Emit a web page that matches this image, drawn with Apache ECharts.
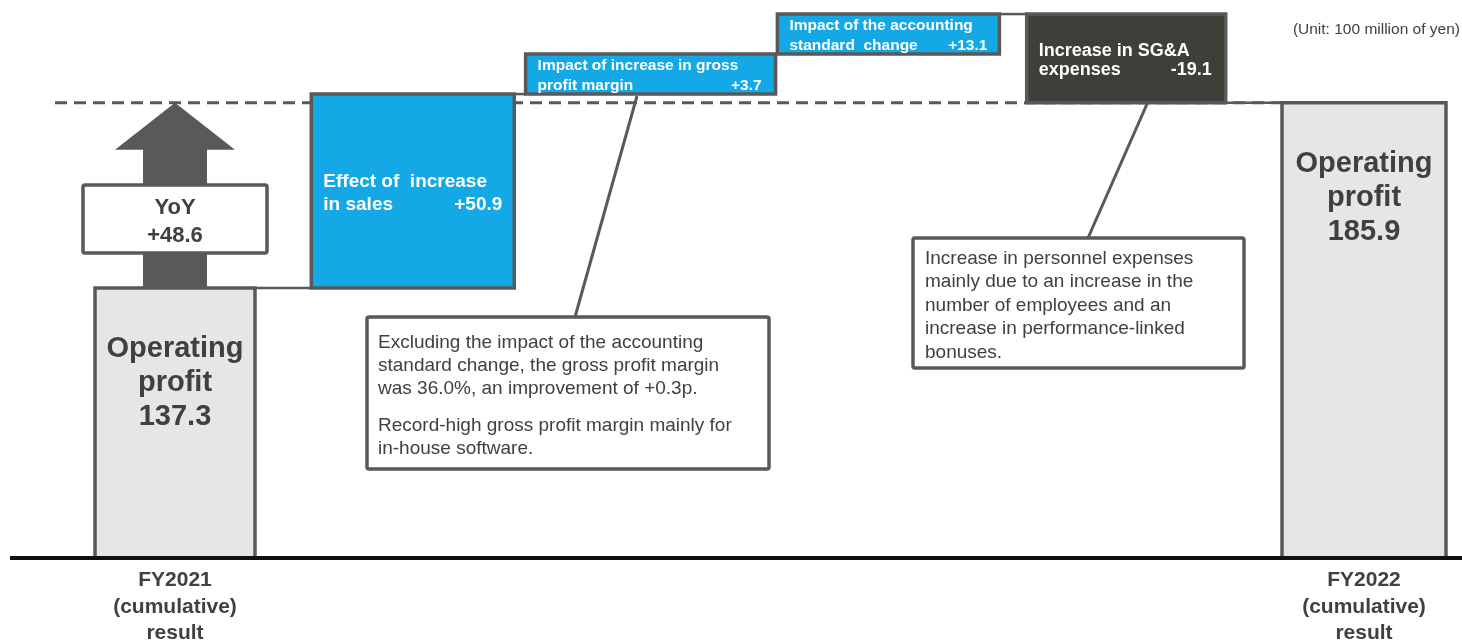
<!DOCTYPE html>
<html>
<head>
<meta charset="utf-8">
<script src="https://cdn.jsdelivr.net/npm/echarts@6/dist/echarts.min.js"></script>
<style>
  html, body { margin: 0; padding: 0; background: #ffffff; }
  #chart { width: 1462px; height: 643px; }
</style>
</head>
<body>
<div id="chart"></div>
<script>
// ---------------- data ----------------
const categories = [
  'FY2021 (cumulative) result',
  'Effect of increase in sales',
  'Impact of increase in gross profit margin',
  'Impact of the accounting standard change',
  'Increase in SG&A expenses',
  'FY2022 (cumulative) result'
];
const tickLabels = ['FY2021\n(cumulative)\nresult', '', '', '', '', 'FY2022\n(cumulative)\nresult'];
const totals = [137.3, 185.9];               // operating profit FY2021, FY2022
const changes = [50.9, 3.7, 13.1, -19.1];    // waterfall steps
const yoy = 48.6;
const changeTitles = [
  'Effect of  increase\nin sales',
  'Impact of increase in gross\nprofit margin',
  'Impact of the accounting\nstandard  change',
  'Increase in SG&A\nexpenses'
];
const totalTitle = 'Operating\nprofit';
const unitText = '(Unit: 100 million of yen)';
const note1a = 'Excluding the impact of the accounting\nstandard change, the gross profit margin\nwas 36.0%, an improvement of +0.3p.';
const note1b = 'Record-high gross profit margin mainly for\nin-house software.';
const note2 = 'Increase in personnel expenses\nmainly due to an increase in the\nnumber of employees and an\nincrease in performance-linked\nbonuses.';

// ---------------- style ----------------
const FONT = '"Liberation Sans", Arial, sans-serif';
const GRAY = '#595959';
const TEXT = '#404040';
const LIGHT = '#e6e6e6';
const BLUE = '#15a8e6';
const DARK = '#3f3f3a';
const Y_MIN = 66.43, Y_MAX = 212.89;
const BOX_W = [160, 203, 250, 222, 199, 164];
const CHANGE_FILL = [BLUE, BLUE, BLUE, DARK];
const CHANGE_FONT = [19, 15.5, 15.5, 18];
const CHANGE_LH = [23, 20, 20, 19.5];
const CHANGE_PAD = [12, 14, 12, 14];
const CHANGE_DY = [2, 2, 2, 2];
const LABEL_BOX_H = 40;      // small impacts are drawn as label boxes
const SMALL = 15;

function fmt(v) { return (v > 0 ? '+' : '') + v.toFixed(1); }

function layout(api) {
  const base = api.coord([0, Y_MIN])[1];
  const steps = [];
  const cx = i => api.coord([i, Y_MIN])[0];
  const t0 = api.coord([0, totals[0]])[1];
  steps.push({ x0: cx(0) - BOX_W[0] / 2, x1: cx(0) + BOX_W[0] / 2, top: t0, bot: base, start: t0, end: t0 });
  let prevEnd = t0, cum = totals[0];
  changes.forEach((d, k) => {
    const i = k + 1;
    cum += d;
    const start = prevEnd;
    const end = Math.abs(d) >= SMALL ? api.coord([i, cum])[1] : start - Math.sign(d) * LABEL_BOX_H;
    steps.push({ x0: cx(i) - BOX_W[i] / 2, x1: cx(i) + BOX_W[i] / 2,
      top: Math.min(start, end), bot: Math.max(start, end), start, end });
    prevEnd = end;
  });
  const n = categories.length - 1;
  const t1 = api.coord([n, totals[1]])[1];
  steps.push({ x0: cx(n) - BOX_W[n] / 2, x1: cx(n) + BOX_W[n] / 2, top: t1, bot: base, start: t1, end: t1 });
  return steps;
}

function renderItem(params, api) {
  const i = params.dataIndex;
  const L = layout(api);
  const s = L[i];
  const children = [];
  const n = categories.length - 1;
  const isTotal = (i === 0 || i === n);

  if (i === 0) {
    children.push({ type: 'line', shape: { x1: 10, y1: s.bot, x2: api.getWidth(), y2: s.bot },
      style: { stroke: '#111', lineWidth: 4 }, z2: 50 });
    const yRef = api.coord([0, totals[1]])[1];
    children.push({ type: 'line', shape: { x1: s.x0 - 40, y1: yRef, x2: L[n].x0, y2: yRef },
      style: { stroke: GRAY, lineWidth: 3, lineDash: [12, 7] }, z2: 1 });
  }
  if (i > 0) {
    const p = L[i - 1];
    children.push({ type: 'line', shape: { x1: p.x1, y1: p.end, x2: s.x0, y2: p.end },
      style: { stroke: GRAY, lineWidth: 2.5 }, z2: 2 });
  }
  const fill = isTotal ? LIGHT : CHANGE_FILL[i - 1];
  children.push({ type: 'rect', shape: { x: s.x0, y: s.top, width: s.x1 - s.x0, height: s.bot - s.top },
    style: { fill: fill, stroke: GRAY, lineWidth: 3.5 }, z2: 10 });

  const cx = (s.x0 + s.x1) / 2;
  if (isTotal) {
    const v = i === 0 ? totals[0] : totals[1];
    children.push({ type: 'text', x: cx, y: s.top + 44,
      style: { text: totalTitle + '\n' + v.toFixed(1), align: 'center', verticalAlign: 'top',
        fontFamily: FONT, fontWeight: 'bold', fontSize: 29, lineHeight: 34, fill: TEXT }, z2: 20 });
  } else {
    const k = i - 1;
    const lh = CHANGE_LH[k];
    const mid = (s.top + s.bot) / 2 + CHANGE_DY[k];
    const common = { fontFamily: FONT, fontWeight: 'bold', fontSize: CHANGE_FONT[k], lineHeight: lh, fill: '#ffffff', verticalAlign: 'top' };
    children.push({ type: 'text', x: s.x0 + 12, y: mid - lh,
      style: Object.assign({ text: changeTitles[k], align: 'left' }, common), z2: 20 });
    children.push({ type: 'text', x: s.x1 - CHANGE_PAD[k], y: mid,
      style: Object.assign({ text: fmt(changes[k]), align: 'right' }, common), z2: 20 });
  }

  if (i === 0) {
    const tip = api.coord([0, totals[0] + yoy])[1];
    const bottom = s.top;
    const headBase = tip + 47;
    const sw = 32, hw = 60;
    children.push({ type: 'polygon', shape: { points: [
      [cx - sw, bottom], [cx - sw, headBase], [cx - hw, headBase], [cx, tip],
      [cx + hw, headBase], [cx + sw, headBase], [cx + sw, bottom]] },
      style: { fill: GRAY }, z2: 5 });
    const bm = (headBase + bottom) / 2;
    children.push({ type: 'rect', shape: { x: cx - 92, y: bm - 34, width: 184, height: 68, r: 2 },
      style: { fill: '#ffffff', stroke: GRAY, lineWidth: 3.5 }, z2: 6 });
    children.push({ type: 'text', x: cx, y: bm + 3,
      style: { text: 'YoY\n' + fmt(yoy), align: 'center', verticalAlign: 'middle',
        fontFamily: FONT, fontWeight: 'bold', fontSize: 22, lineHeight: 28, fill: TEXT }, z2: 7 });
  }
  return { type: 'group', children: children };
}

const chart = echarts.init(document.getElementById('chart'), null, { renderer: 'canvas' });
const noteStyle = { fontFamily: FONT, fontSize: 19, fill: TEXT, verticalAlign: 'top' };
chart.setOption({
  animation: false,
  backgroundColor: '#ffffff',
  grid: { left: 175, right: 98, top: 0, bottom: 85, containLabel: false, outerBoundsMode: 'none' },
  xAxis: {
    type: 'category',
    data: categories,
    boundaryGap: false,
    axisLine: { show: false },
    axisTick: { show: false },
    splitLine: { show: false },
    axisLabel: {
      interval: 0,
      margin: 9,
      formatter: (v, idx) => tickLabels[idx],
      fontFamily: FONT, fontWeight: 'bold', fontSize: 21, lineHeight: 26.5, color: TEXT,
      showMinLabel: true, showMaxLabel: true, hideOverlap: false
    }
  },
  yAxis: { type: 'value', min: Y_MIN, max: Y_MAX, show: false },
  series: [{
    type: 'custom',
    clip: false,
    renderItem: renderItem,
    data: categories.map((c, i) => [i])
  }],
  graphic: [
    { type: 'line', z: 20, shape: { x1: 637, y1: 96, x2: 575, y2: 317 }, style: { stroke: GRAY, lineWidth: 3 } },
    { type: 'line', z: 20, shape: { x1: 1147, y1: 104, x2: 1088, y2: 238 }, style: { stroke: GRAY, lineWidth: 3 } },
    { type: 'rect', z: 21, shape: { x: 367, y: 317, width: 402, height: 152, r: 2 }, style: { fill: '#ffffff', stroke: GRAY, lineWidth: 3.5 } },
    { type: 'text', z: 22, x: 378, y: 331, style: Object.assign({ text: note1a, lineHeight: 23 }, noteStyle) },
    { type: 'text', z: 22, x: 378, y: 414, style: Object.assign({ text: note1b, lineHeight: 23 }, noteStyle) },
    { type: 'rect', z: 21, shape: { x: 913, y: 238, width: 331, height: 130, r: 2 }, style: { fill: '#ffffff', stroke: GRAY, lineWidth: 3.5 } },
    { type: 'text', z: 22, x: 925, y: 247, style: Object.assign({ text: note2, lineHeight: 23.5 }, noteStyle) },
    { type: 'text', z: 22, x: 1460, y: 30, style: { text: unitText, fontFamily: FONT, fontSize: 15.5, fill: TEXT, align: 'right', verticalAlign: 'middle' } }
  ]
});
</script>
</body>
</html>
